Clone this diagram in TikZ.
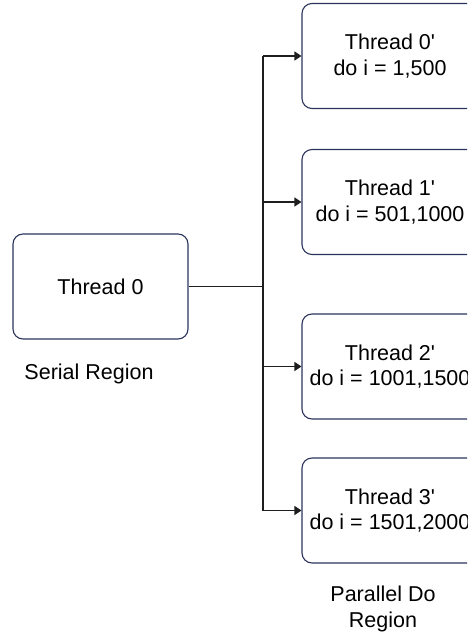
\documentclass[tikz,border=0pt]{standalone}
\usepackage{fontspec}
\setmainfont{Liberation Sans}
\usetikzlibrary{arrows.meta}
\definecolor{boxline}{RGB}{44,52,92}
\definecolor{wire}{RGB}{30,30,30}
\newcommand{\prm}{\textquotesingle}
\tikzset{
  threadbox/.style={draw=boxline, line width=1.1pt, rounded corners=10pt,
    minimum height=105pt, align=center, font=\fontsize{21.5}{25.5}\selectfont, inner sep=0pt},
  lbl/.style={align=center, font=\fontsize{21.5}{25.5}\selectfont, inner sep=0pt},
  wireline/.style={draw=wire, line width=1.2pt},
  fork/.style={wireline, -{Triangle[length=7pt,width=9pt]}}
}
\begin{document}
\begin{tikzpicture}[x=1pt,y=-1pt]
  \useasboundingbox (0,0) rectangle (467,636);
  \clip (0,0) rectangle (467,636);

  % serial part
  \node[threadbox, minimum width=175pt] (t0) at (100.5,286.5) {Thread 0};
  \node[lbl] (serial) at (89,374) {Serial Region};

  % parallel workers (right side runs past the page edge)
  \node[threadbox, minimum width=176pt] (p0) at (390,56) {Thread 0\prm\\do i = 1,500};
  \node[threadbox, minimum width=176pt] (p1) at (390,202) {Thread 1\prm\\do i = 501,1000};
  \node[threadbox, minimum width=176pt] (p2) at (390,366.5) {Thread 2\prm\\do i = 1001,1500};
  \node[threadbox, minimum width=176pt] (p3) at (390,510.5) {Thread 3\prm\\do i = 1501,2000};
  \node[lbl] (par) at (383,609) {Parallel Do\\Region};

  % fork bus
  \coordinate (bus) at (263,286.5);
  \coordinate (b0) at (263,56);
  \coordinate (b1) at (263,202);
  \coordinate (b2) at (263,366.5);
  \coordinate (b3) at (263,510.5);
  \draw[wireline] (t0.east) -- (bus);
  \draw[wireline] (b0) -- (b3);
  \draw[fork] (b0) -- (p0.west);
  \draw[fork] (b1) -- (p1.west);
  \draw[fork] (b2) -- (p2.west);
  \draw[fork] (b3) -- (p3.west);
\end{tikzpicture}
\end{document}
